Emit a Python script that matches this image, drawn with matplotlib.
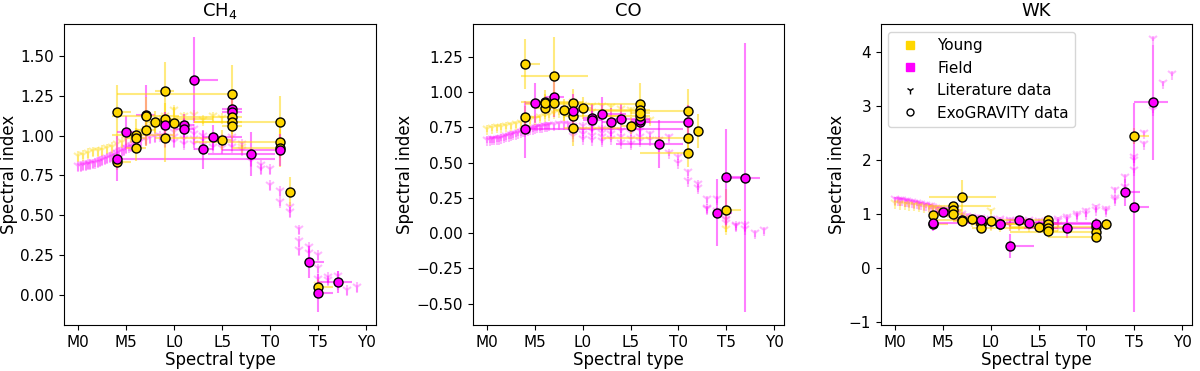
import numpy as np
import matplotlib
matplotlib.use('Agg')
import matplotlib.pyplot as plt
from matplotlib.lines import Line2D

YOUNG = '#FFD700'
FIELD = '#FF00FF'

spt_ticks = [0, 5, 10, 15, 20, 25, 30]
spt_labels = ['M0', 'M5', 'L0', 'L5', 'T0', 'T5', 'Y0']

# literature data (field), same objects in the three panels
lit_field_spt = [0, 0.25, 0.5, 0.75, 1, 1.25, 1.5, 1.75, 2, 2.25, 2.5, 2.75,
                 3, 3.25, 3.5, 3.75, 4, 4.25, 4.5, 4.75, 5, 5.25, 5.5, 5.75,
                 6, 6.25, 6.5, 7, 7.5, 8, 8.5,
                 9, 9, 9, 10, 10, 10, 10, 11, 11, 11, 11, 12, 12, 12, 12,
                 13, 13, 13, 14, 14, 14, 15, 15, 15, 16, 16, 16, 17, 17,
                 18, 18, 19, 19,
                 20, 20, 21, 21, 22, 22, 23, 23, 23, 24, 24, 25, 25, 25,
                 26, 26, 27, 27, 28, 29]
lit_field_ch4 = [0.81, 0.81, 0.815, 0.815, 0.82, 0.82, 0.825, 0.83, 0.835,
                 0.84, 0.845, 0.85, 0.86, 0.865, 0.87, 0.88, 0.89, 0.895,
                 0.90, 0.91, 0.92, 0.93, 0.935, 0.945, 0.95, 0.955, 0.965,
                 0.975, 0.985, 0.99, 1.00,
                 1.03, 0.99, 0.96, 1.05, 1.02, 0.99, 0.96, 1.04, 1.01, 0.98,
                 0.95, 1.04, 1.01, 0.98, 0.95, 1.00, 0.97, 0.94, 0.99, 0.96,
                 0.93, 0.98, 0.95, 0.92, 0.99, 0.96, 0.93, 0.95, 0.91,
                 0.87, 0.84, 0.815, 0.79,
                 0.79, 0.69, 0.65, 0.585, 0.553, 0.52, 0.41, 0.34, 0.28,
                 0.30, 0.26, 0.25, 0.165, 0.10, 0.113, 0.09, 0.12, 0.07,
                 0.03, 0.05]
lit_field_co = [0.66, 0.66, 0.665, 0.665, 0.67, 0.67, 0.675, 0.68, 0.685,
                0.69, 0.695, 0.70, 0.705, 0.71, 0.715, 0.72, 0.725, 0.73,
                0.735, 0.74, 0.745, 0.75, 0.75, 0.755, 0.76, 0.76, 0.765,
                0.765, 0.77, 0.77, 0.77,
                0.76, 0.72, 0.69, 0.76, 0.73, 0.70, 0.67, 0.75, 0.72, 0.69,
                0.66, 0.74, 0.71, 0.68, 0.65, 0.73, 0.70, 0.67, 0.72, 0.68,
                0.64, 0.71, 0.67, 0.63, 0.72, 0.68, 0.65, 0.70, 0.66,
                0.66, 0.62, 0.68, 0.57,
                0.54, 0.50, 0.43, 0.37, 0.35, 0.32, 0.24, 0.18, 0.17,
                0.24, 0.16, 0.09, 0.07, 0.10, 0.06, 0.05, 0.03, 0.06,
                0.0, 0.02]
lit_field_wk = [1.27, 1.26, 1.255, 1.25, 1.245, 1.24, 1.23, 1.22, 1.21,
                1.20, 1.19, 1.18, 1.17, 1.16, 1.15, 1.14, 1.12, 1.11, 1.10,
                1.09, 1.08, 1.07, 1.06, 1.05, 1.04, 1.03, 1.01, 0.99, 0.97,
                0.95, 0.93,
                0.92, 0.88, 0.85, 0.91, 0.88, 0.85, 0.82, 0.90, 0.87, 0.84,
                0.81, 0.89, 0.86, 0.83, 0.80, 0.88, 0.85, 0.82, 0.88, 0.85,
                0.82, 0.87, 0.84, 0.81, 0.88, 0.85, 0.82, 0.90, 0.86,
                0.95, 0.90, 1.00, 0.96,
                1.06, 1.00, 1.12, 1.08, 1.10, 1.05, 1.44, 1.30, 1.25,
                1.69, 1.50, 2.00, 1.81, 2.05, 2.50, 2.30, 2.93, 4.25,
                3.42, 3.60]

# literature data (young)
lit_young_spt = [0, 0.5, 1, 1.5, 2, 2.5, 3, 3.5, 4, 4.5, 5, 5.5, 6, 6.5,
                 7, 7.5, 8, 8, 8.5, 9, 9, 10, 10, 11, 11, 12, 13, 14, 15,
                 16, 17, 25]
lit_young_ch4 = [0.87, 0.88, 0.89, 0.90, 0.90, 0.91, 0.92, 0.93, 0.95, 0.96,
                 0.98, 0.99, 1.00, 1.02, 1.04, 1.06, 1.08, 1.05, 1.10, 1.12,
                 1.08, 1.16, 1.09, 1.12, 1.07, 1.13, 1.10, 1.12, 1.11, 1.12,
                 0.93, 0.06]
lit_young_co = [0.74, 0.745, 0.75, 0.755, 0.76, 0.765, 0.77, 0.78, 0.79,
                0.80, 0.81, 0.82, 0.83, 0.84, 0.85, 0.86, 0.87, 0.84, 0.88,
                0.93, 0.86, 0.91, 0.87, 0.90, 0.86, 0.90, 0.89, 0.88, 0.87,
                0.88, 0.80, 0.03]
lit_young_wk = [1.20, 1.19, 1.18, 1.17, 1.16, 1.15, 1.13, 1.12, 1.10, 1.08,
                1.06, 1.04, 1.02, 0.99, 0.96, 0.93, 0.90, 0.87, 0.88, 0.85,
                0.80, 1.05, 0.79, 0.82, 0.78, 0.80, 0.79, 0.78, 0.77, 0.78,
                0.80, 2.40]
lit_err = {'ch4': 0.03, 'co': 0.025, 'wk': 0.05}

# ExoGRAVITY objects
exo_spt = [4, 4, 4, 5, 6, 6, 6, 7, 7, 7, 8, 9, 9, 9, 9, 10, 11, 11, 12, 13,
           14, 15, 16, 16, 16, 16, 16, 16, 18, 21, 21, 21, 21, 22, 24, 25,
           25, 27]
exo_young = [1, 1, 0, 0, 1, 1, 1, 0, 1, 1, 1, 1, 1, 1, 0, 1, 0, 0, 0, 0,
             0, 1, 0, 0, 1, 1, 1, 1, 0, 1, 1, 1, 0, 1, 0, 1, 0, 0]
exo_xlo = [0.4, 0.5, 0.5, 1.0, 2.5, 1.0, 1.0, 1.0, 1.0, 3.5, 1.0, 1.0, 1.0,
           1.0, 1.0, 1.0, 1.0, 1.0, 0.0, 1.0, 1.0, 1.0, 1.0, 1.0, 12.0, 6.0,
           4.0, 1.0, 4.5, 9.0, 9.0, 5.0, 6.0, 0.0, 0.3, 0.0, 0.3, 2.0]
exo_xhi = [1.5, 1.5, 16.5, 1.0, 4.0, 1.0, 1.0, 1.0, 1.0, 3.5, 1.0, 1.0,
           5.0, 5.0, 1.0, 1.0, 1.0, 1.0, 2.5, 1.0, 3.0, 1.0, 1.0, 1.0, 0.5,
           1.0, 1.0, 1.0, 2.5, 0.0, 0.0, 0.0, 0.5, 0.0, 1.6, 1.5, 1.5, 1.5]
exo_ch4 = [1.15, 0.835, 0.855, 1.022, 1.006, 0.987, 0.92, 1.13, 1.037, 1.12,
           1.085, 1.282, 1.102, 0.983, 1.066, 1.077, 1.064, 1.043, 1.351,
           0.913, 0.989, 0.972, 1.165, 1.148, 1.263, 1.117, 1.087, 1.062,
           0.884, 1.087, 0.957, 0.92, 0.907, 0.647, 0.207, 0.05, 0.013,
           0.078]
exo_ch4_err = [0.17, 0.05, 0.14, 0.10, 0.10, 0.06, 0.08, 0.19, 0.10, 0.12,
               0.07, 0.18, 0.10, 0.15, 0.08, 0.10, 0.07, 0.06, 0.27, 0.12,
               0.08, 0.06, 0.12, 0.10, 0.18, 0.08, 0.08, 0.08, 0.14, 0.16,
               0.10, 0.12, 0.10, 0.09, 0.10, 0.05, 0.12, 0.07]
exo_co = [1.198, 0.823, 0.735, 0.922, 0.931, 0.884, 0.925, 0.962, 0.922,
          1.111, 0.872, 0.922, 0.83, 0.747, 0.865, 0.886, 0.813, 0.80,
          0.841, 0.787, 0.811, 0.761, 0.789, 0.80, 0.914, 0.872, 0.827,
          0.85, 0.629, 0.863, 0.674, 0.57, 0.79, 0.726, 0.145, 0.161,
          0.40, 0.393]
exo_co_err = [0.18, 0.08, 0.20, 0.14, 0.08, 0.06, 0.06, 0.14, 0.08, 0.28,
              0.08, 0.10, 0.12, 0.13, 0.12, 0.08, 0.10, 0.08, 0.12, 0.10,
              0.10, 0.06, 0.12, 0.10, 0.15, 0.08, 0.08, 0.08, 0.17, 0.16,
              0.10, 0.10, 0.12, 0.12, 0.235, 0.15, 0.34, 0.95]
exo_wk = [0.98, 0.81, 0.836, 1.03, 1.15, 1.07, 0.99, 0.879, 0.87, 1.305,
          0.90, 0.84, 0.81, 0.74, 0.885, 0.866, 0.82, 0.81, 0.40, 0.885,
          0.84, 0.755, 0.81, 0.74, 0.885, 0.81, 0.74, 0.675, 0.73, 0.76,
          0.67, 0.575, 0.82, 0.81, 1.40, 2.45, 1.12, 3.07]
exo_wk_err = [0.10, 0.06, 0.15, 0.08, 0.08, 0.06, 0.06, 0.12, 0.08, 0.33,
              0.06, 0.08, 0.08, 0.08, 0.10, 0.06, 0.08, 0.06, 0.22, 0.08,
              0.08, 0.06, 0.08, 0.08, 0.10, 0.06, 0.06, 0.08, 0.18, 0.10,
              0.08, 0.08, 0.10, 0.10, 0.25, 0.15, 1.93, 1.07]


def plot_panel(ax, key, lit_f, lit_y, exo_val, exo_err, title):
    ax.errorbar(lit_field_spt, lit_f, yerr=lit_err[key], fmt='1',
                color=FIELD, alpha=0.28, ms=8, mew=1.5, lw=1.5, zorder=1)
    ax.errorbar(lit_young_spt, lit_y, yerr=lit_err[key], fmt='1',
                color=YOUNG, alpha=0.35, ms=8, mew=1.5, lw=1.5, zorder=1)
    for i in range(len(exo_spt)):
        c = YOUNG if exo_young[i] else FIELD
        ax.errorbar(exo_spt[i], exo_val[i], yerr=exo_err[i],
                    xerr=[[exo_xlo[i]], [exo_xhi[i]]], fmt='none',
                    ecolor=c, alpha=0.5, lw=1.5, zorder=2)
    for i in range(len(exo_spt)):
        c = YOUNG if exo_young[i] else FIELD
        ax.plot(exo_spt[i], exo_val[i], 'o', color=c, mec='black',
                mew=1.0, ms=6.5, zorder=3 + i * 0.01)
    ax.set_xticks(spt_ticks)
    ax.set_xticklabels(spt_labels)
    ax.set_xlim(-1.5, 31.0)
    ax.set_xlabel('Spectral type', fontsize=12, labelpad=1)
    ax.set_ylabel('Spectral index', fontsize=12, labelpad=2)
    ax.set_title(title, fontsize=13)
    ax.tick_params(labelsize=11)


fig = plt.figure(figsize=(12, 3.71), dpi=100)
ax_1 = fig.add_axes([0.0533, 0.124, 0.26, 0.811])
ax_2 = fig.add_axes([0.394, 0.124, 0.259, 0.811])
ax_3 = fig.add_axes([0.734, 0.124, 0.259, 0.811])

plot_panel(ax_1, 'ch4', lit_field_ch4, lit_young_ch4, exo_ch4, exo_ch4_err,
           'CH$_4$')
ax_1.set_ylim(-0.19, 1.70)
ax_1.set_yticks(np.arange(0, 1.51, 0.25))

plot_panel(ax_2, 'co', lit_field_co, lit_young_co, exo_co, exo_co_err, 'CO')
ax_2.set_ylim(-0.65, 1.48)
ax_2.set_yticks(np.arange(-0.5, 1.26, 0.25))

plot_panel(ax_3, 'wk', lit_field_wk, lit_young_wk, exo_wk, exo_wk_err, 'WK')
ax_3.set_ylim(-1.06, 4.52)
ax_3.set_yticks([-1, 0, 1, 2, 3, 4])

handles = [
    Line2D([], [], ls='none', marker='s', color=YOUNG, ms=6),
    Line2D([], [], ls='none', marker='s', color=FIELD, ms=6),
    Line2D([], [], ls='none', marker='1', color='black', ms=6),
    Line2D([], [], ls='none', marker='o', mfc='white', mec='black', ms=5),
]
ax_3.legend(handles, ['Young', 'Field', 'Literature data', 'ExoGRAVITY data'],
            loc='upper left', fontsize=11)

fig.savefig('out.png', dpi=100)
